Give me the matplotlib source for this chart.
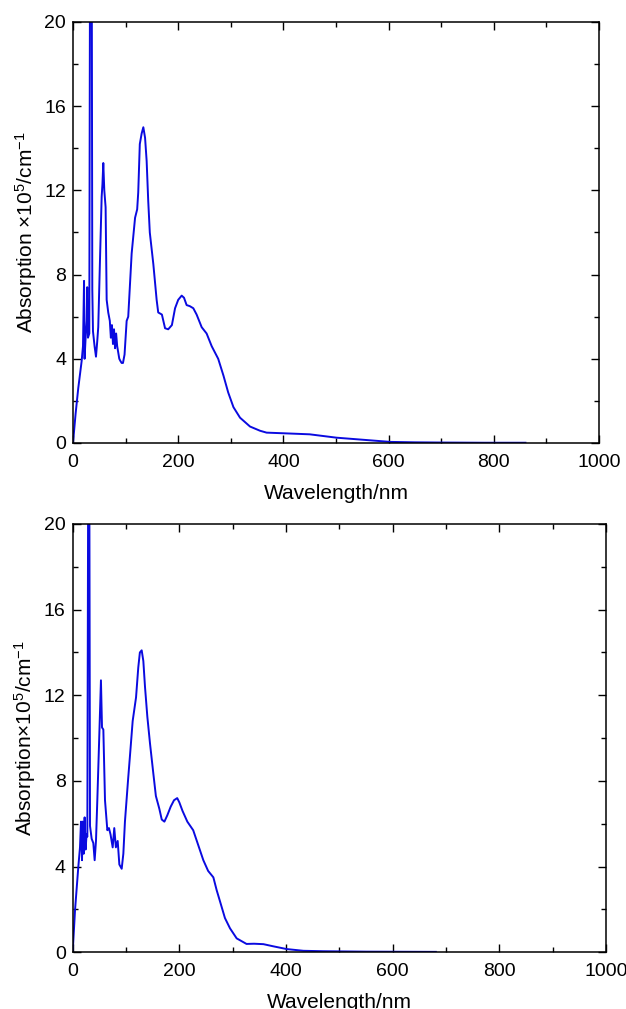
import matplotlib
matplotlib.use("Agg")
import matplotlib.pyplot as plt
from matplotlib.ticker import MultipleLocator

# ---- data ----
wl_top = [0, 5, 10, 16.5, 19, 21, 22, 24, 26, 27, 28.5, 31, 32.5, 33.5, 35.5, 36.7, 38, 41, 43.7,
          46, 48, 51, 54.5, 56, 57.6, 59.5, 62, 64, 67, 70, 72, 74, 76, 78, 80, 82, 84, 86, 88,
          90, 92.5, 95, 98, 102, 105, 111.5, 118, 122, 124, 127, 130.5, 133.7, 137, 140, 143,
          146, 152.7, 159, 162, 169, 175, 181, 188, 194, 200, 206.6, 211, 216, 222, 228.7, 235,
          244.6, 254, 263.6, 276, 286, 295, 305, 317.5, 336.5, 355.5, 368, 400, 450, 501, 552,
          603, 650, 700, 780, 860]
abs_top = [0, 1.4, 2.6, 3.9, 4.6, 7.7, 4.0, 5.0, 5.8, 7.4, 5.0, 5.2, 25, 25, 25, 7.3, 5.3, 4.6, 4.1,
           4.8, 5.5, 8.4, 11.7, 12.3, 13.3, 12.0, 11.2, 6.8, 6.2, 5.8, 5.0, 5.6, 4.7, 5.4, 4.5,
           5.2, 4.6, 4.3, 4.0, 3.9, 3.8, 3.8, 4.2, 5.8, 6.0, 9.0, 10.7, 11.1, 11.9, 14.2, 14.7,
           15.0, 14.5, 13.4, 11.5, 10.0, 8.5, 6.8, 6.2, 6.1, 5.45, 5.4, 5.6, 6.4, 6.8, 7.0, 6.9,
           6.55, 6.5, 6.4, 6.1, 5.5, 5.2, 4.6, 4.0, 3.2, 2.4, 1.7, 1.2, 0.78, 0.58, 0.49, 0.46,
           0.41, 0.25, 0.15, 0.05, 0.03, 0.02, 0.01, 0.01]

wl_bot = [0, 4.4, 10.6, 13.7, 15.6, 17.5, 18.7, 20.6, 22.4, 24.3, 26, 27.5, 29.3, 31, 32.5, 35.6,
          38.7, 41.2, 43.7, 46.2, 50, 53, 55, 57.5, 60.6, 65, 68, 71, 75, 78, 81, 84.4, 87.5,
          91.9, 95, 98, 101, 104, 107.5, 112.5, 118.8, 123, 126, 129.4, 132.5, 135.6, 140, 145, 151,
          156, 162.5, 167, 172, 177.5, 183.8, 190, 196, 200, 206, 215, 226, 235.5, 245, 254,
          263.8, 270, 276, 285.5, 295, 307.5, 326, 340, 357.6, 376, 401.5, 432.6, 470, 550, 681]
abs_bot = [0, 1.97, 4.0, 4.9, 6.1, 4.3, 6.1, 4.6, 6.3, 4.8, 5.5, 5.4, 25, 25, 5.9, 5.3,
           5.1, 4.3, 5.2, 7.1, 10.2, 12.7, 10.5, 10.4, 7.1, 5.7, 5.8, 5.5, 4.9, 5.8, 4.9, 5.2, 4.1,
           3.9, 4.6, 6.1, 7.1, 8.1, 9.2, 10.8, 11.9, 13.3, 14.0, 14.1, 13.6, 12.4, 11.0, 9.75, 8.4,
           7.3, 6.7, 6.2, 6.1, 6.4, 6.8, 7.1, 7.2, 7.0, 6.6, 6.1, 5.7, 5.0, 4.3, 3.8,
           3.5, 2.9, 2.4, 1.6, 1.12, 0.65, 0.39, 0.4, 0.38, 0.28, 0.15, 0.07, 0.05, 0.03, 0.02]

xlabel = "Wavelength/nm"
ylabel_top = r"Absorption $\times$10$^{5}$/cm$^{-1}$"
ylabel_bot = r"Absorption$\times$10$^{5}$/cm$^{-1}$"

plt.rcParams['font.family'] = ['Liberation Sans', 'DejaVu Sans']
plt.rcParams['mathtext.fontset'] = 'custom'
plt.rcParams['mathtext.rm'] = 'Liberation Sans'
plt.rcParams['mathtext.it'] = 'Liberation Sans'

fig = plt.figure(figsize=(6.26, 10.09), dpi=100)
ax1 = fig.add_axes([0.1166, 0.561, 0.957 - 0.1166, 0.9782 - 0.561])
ax2 = fig.add_axes([0.1161, 0.0562, 0.968 - 0.1161, 0.4807 - 0.0562])

line_color = '#0a0ae0'
FS_TICK = 14
FS_LAB = 15

for ax, x, y, yl in [(ax1, wl_top, abs_top, ylabel_top), (ax2, wl_bot, abs_bot, ylabel_bot)]:
    ax.plot(x, y, color=line_color, lw=1.4)
    ax.set_xlim(0, 1000)
    ax.set_ylim(0, 20)
    ax.xaxis.set_major_locator(MultipleLocator(200))
    ax.xaxis.set_minor_locator(MultipleLocator(100))
    ax.yaxis.set_major_locator(MultipleLocator(4))
    ax.yaxis.set_minor_locator(MultipleLocator(2))
    ax.tick_params(which='both', direction='in', top=True, right=True, labelsize=FS_TICK)
    ax.tick_params(axis='x', which='major', pad=8)
    ax.tick_params(axis='y', which='major', pad=5)
    ax.tick_params(which='major', length=6, width=1)
    ax.tick_params(which='minor', length=3.5, width=1)
    for s in ax.spines.values():
        s.set_linewidth(1.1)
    ax.set_xlabel(xlabel, fontsize=FS_LAB, labelpad=9)
    ax.set_ylabel(yl, fontsize=FS_LAB, labelpad=4)

fig.savefig("out.png", dpi=100)
